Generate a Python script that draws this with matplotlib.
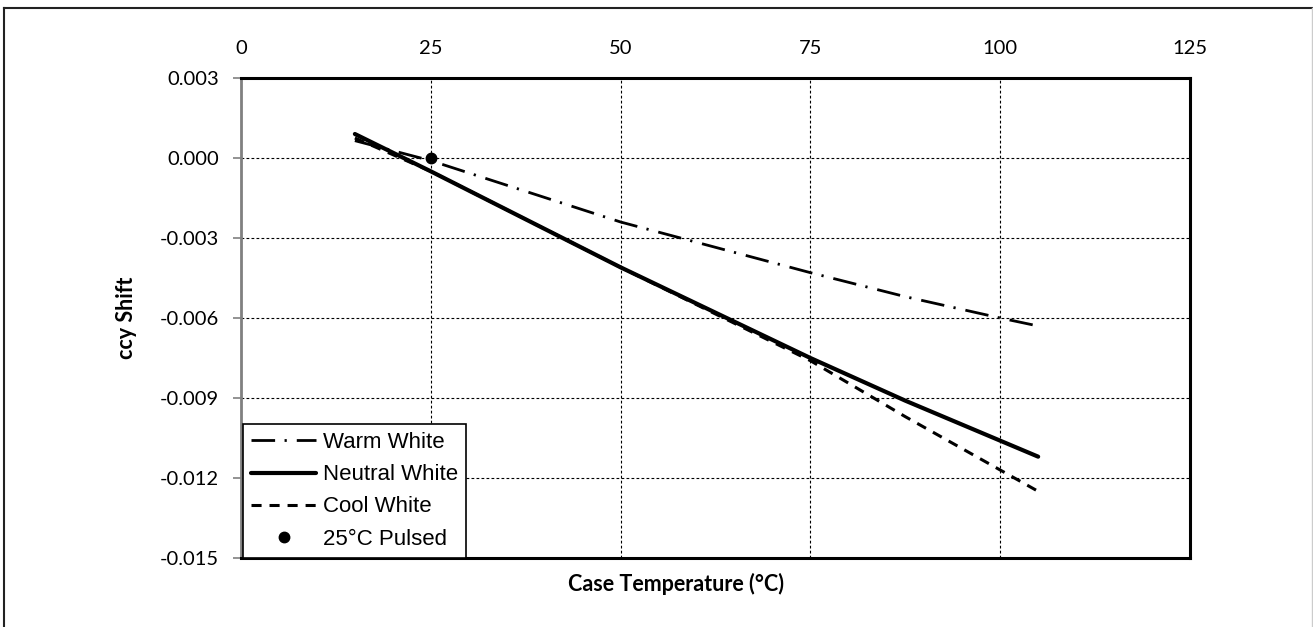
import matplotlib.pyplot as plt
from matplotlib.lines import Line2D
from matplotlib.ticker import FuncFormatter

# Case temperature (°C) and chromaticity shift for each white
temp = [15, 25, 50, 75, 87.5, 100, 105]
warm = [0.00065, -0.0001, -0.0024, -0.0043, -0.0052, -0.0060, -0.0063]
neutral = [0.0009, -0.0005, -0.0041, -0.0075, -0.0091, -0.0106, -0.0112]
cool = [0.00075, -0.0005, -0.0041, -0.0076, -0.0097, -0.0117, -0.0125]
pulsed_t = [25]
pulsed_y = [0.0]

x_ticks = [0, 25, 50, 75, 100, 125]
y_ticks = [0.003, 0.0, -0.003, -0.006, -0.009, -0.012, -0.015]

W, H = 1313, 627
fig = plt.figure(figsize=(W / 100, H / 100), dpi=100)
ax = fig.add_axes([241 / W, 1 - 558 / H, (1190 - 241) / W, (558 - 78) / H])

ax.plot(temp, warm, color='black', lw=2.0, ls=(0, (8.5, 3.4, 0.8, 3.6)),
        label='Warm White')
ax.plot(temp, neutral, color='black', lw=3.0, solid_capstyle='round',
        label='Neutral White')
ax.plot(temp, cool, color='black', lw=2.2, ls=(0, (3.3, 2.6)),
        label='Cool White')
ax.plot(pulsed_t, pulsed_y, 'o', color='black', ms=7.5, ls='none',
        label='25°C Pulsed', zorder=5)

ax.set_xlim(0, 125)
ax.set_ylim(-0.015, 0.003)
ax.set_xticks(x_ticks)
ax.set_yticks(y_ticks)
ax.yaxis.set_major_formatter(FuncFormatter(lambda v, p: f'{v:.3f}'.replace('-0.000', '0.000')))

ax.grid(True, color='black', lw=0.8, ls=(0, (2.5, 2)))
ax.set_axisbelow(True)

ax.xaxis.tick_top()
ax.tick_params(axis='x', length=0, pad=15, labelsize=14.5)
ax.tick_params(axis='y', length=6, width=1.2, color='#808080', pad=10, labelsize=14.5)
for lab in ax.get_xticklabels() + ax.get_yticklabels():
    lab.set_family('Lato')

for side in ['top', 'right', 'bottom']:
    ax.spines[side].set_color('black')
    ax.spines[side].set_linewidth(2.2)
ax.spines['left'].set_color('#808080')
ax.spines['left'].set_linewidth(2.0)

fig.text(127 / W, 1 - 318 / H, 'ccy Shift', rotation=90, ha='center', va='center',
         family='Lato', weight='bold', size=15.5)
fig.text(676 / W, 1 - 584 / H, 'Case Temperature (°C)', ha='center', va='center',
         family='Lato', weight='bold', size=15.5)

leg = ax.legend(loc='lower left', bbox_to_anchor=(0.002, 0.0), borderaxespad=0,
                prop=dict(family='Liberation Sans', size=16), handlelength=2.9,
                handletextpad=0.32, labelspacing=0.5, borderpad=0.38,
                fancybox=False, framealpha=1, edgecolor='black')
leg.get_frame().set_linewidth(1.2)

# outer frame on left, top and right
fig.add_artist(Line2D([4 / W, 4 / W], [0, 1 - 8 / H], color='#222222', lw=1.5))
fig.add_artist(Line2D([4 / W, 1312 / W], [1 - 8 / H, 1 - 8 / H], color='#222222', lw=1.5))
fig.add_artist(Line2D([1312 / W, 1312 / W], [0, 1 - 8 / H], color='#cccccc', lw=1.0))

fig.savefig('out.png', dpi=100)
